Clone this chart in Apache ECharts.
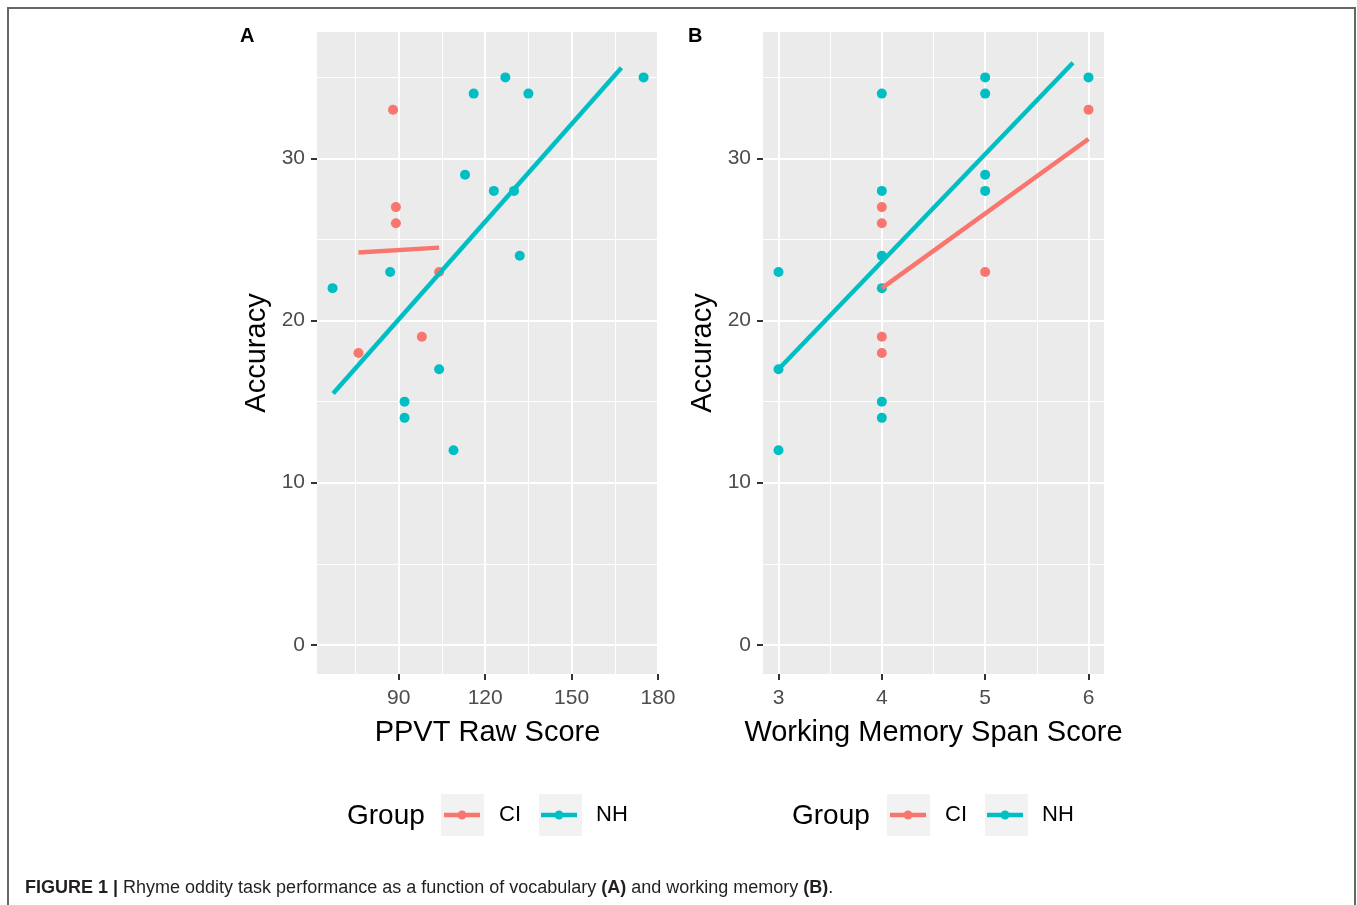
<!DOCTYPE html>
<html>
<head>
<meta charset="utf-8">
<script src="https://cdn.jsdelivr.net/npm/echarts@6/dist/echarts.min.js"></script>
<style>html,body{margin:0;padding:0;background:#fff}#chart{width:1357px;height:905px}</style>
</head>
<body>
<div id="chart"></div>
<script>
  // panel A: PPVT raw score vs accuracy
  const ppvtCI = [88, 89, 89, 104, 98, 76];
  const accCI = [33, 27, 26, 23, 19, 18];
  const ppvtNH = [175, 127, 116, 135, 113, 123, 130, 132, 87, 67, 104, 92, 92, 109];
  const accNH = [35, 35, 34, 34, 29, 28, 28, 24, 23, 22, 17, 15, 14, 12];
  // panel B: working memory span vs accuracy
  const wmCI = [4, 4, 4, 4, 5, 6];
  const wmAccCI = [27, 26, 19, 18, 23, 33];
  const wmNH = [3, 3, 3, 4, 4, 4, 4, 4, 4, 5, 5, 5, 5, 6];
  const wmAccNH = [23, 17, 12, 34, 28, 24, 22, 15, 14, 35, 34, 29, 28, 35];
  // lm fit lines, end points
  const fitA_CI = [[76, 24.2], [104, 24.5]];
  const fitA_NH = [[67.2, 15.5], [167.3, 35.6]];
  const fitB_CI = [[4, 22.0], [6, 31.2]];
  const fitB_NH = [[3, 17.0], [5.85, 35.9]];
  // ticks
  const ppvtTicks = [90, 120, 150, 180];
  const ppvtMinor = [75, 105, 135, 165];
  const wmTicks = [3, 4, 5, 6];
  const wmMinor = [3.5, 4.5, 5.5];
  const accTicks = [0, 10, 20, 30];
  const accMinor = [5, 15, 25, 35];

  const CI_COLOR = '#F8766D';
  const NH_COLOR = '#00BFC4';
  // line with a dot, like the ggplot legend key
  const legendIcon = 'path://M0,2.3 h36 v4.4 h-36 z M13.5,4.5 a4.5,4.5 0 1,1 9,0 a4.5,4.5 0 1,1 -9,0 z';

  const zip = (xs, ys) => xs.map((x, i) => [x, ys[i]]);

  function xAxes(grid, min, max, ticks, minor, name) {
    return [{
      type: 'value', gridIndex: grid, min: min, max: max,
      name: name, nameLocation: 'middle', nameGap: 44,
      nameTextStyle: {fontSize: 29, color: '#000'},
      axisLine: {show: false, onZero: false},
      axisTick: {show: true, length: 6, lineStyle: {color: '#333', width: 2}, customValues: ticks},
      axisLabel: {fontSize: 21, color: '#4d4d4d', margin: 14, customValues: ticks},
      splitLine: {show: true, lineStyle: {color: '#fff', width: 2}}
    }, {
      type: 'value', gridIndex: grid, min: min, max: max,
      axisLine: {show: false, onZero: false},
      axisTick: {show: false, customValues: minor},
      axisLabel: {show: false, customValues: minor},
      splitLine: {show: true, lineStyle: {color: '#fff', width: 1}}
    }];
  }

  function yAxes(grid) {
    return [{
      type: 'value', gridIndex: grid, min: -1.8, max: 37.8,
      name: 'Accuracy', nameLocation: 'middle', nameGap: 46, nameRotate: 90,
      nameTextStyle: {fontSize: 29, color: '#000'},
      axisLine: {show: false, onZero: false},
      axisTick: {show: true, length: 6, lineStyle: {color: '#333', width: 2}, customValues: accTicks},
      axisLabel: {fontSize: 21, color: '#4d4d4d', margin: 12, customValues: accTicks},
      splitLine: {show: true, lineStyle: {color: '#fff', width: 2}}
    }, {
      type: 'value', gridIndex: grid, min: -1.8, max: 37.8,
      axisLine: {show: false, onZero: false},
      axisTick: {show: false, customValues: accMinor},
      axisLabel: {show: false, customValues: accMinor},
      splitLine: {show: true, lineStyle: {color: '#fff', width: 1}}
    }];
  }

  function pts(name, color, data, ax) {
    return {name: name, type: 'scatter', xAxisIndex: ax, yAxisIndex: ax, data: data,
      symbolSize: 10, itemStyle: {color: color, opacity: 1}, z: 3, silent: true};
  }
  function fit(name, color, data, ax) {
    return {name: name, type: 'line', xAxisIndex: ax, yAxisIndex: ax, data: data,
      showSymbol: false, color: color, lineStyle: {color: color, width: 4.5}, z: 4, silent: true};
  }

  function legendAt(left) {
    return {
      left: left, top: 804, orient: 'horizontal', padding: 0,
      data: ['CI', 'NH'], icon: legendIcon, itemWidth: 36, itemHeight: 9, itemGap: 20,
      selectedMode: false,
      textStyle: {fontSize: 22, color: '#000', padding: [0, 0, 0, 14]}
    };
  }

  const chart = echarts.init(document.getElementById('chart'));
  chart.setOption({
    animation: false,
    backgroundColor: '#fff',
    textStyle: {fontFamily: 'Liberation Sans, Arial, sans-serif'},
    grid: [
      {left: 317, top: 32, width: 341, height: 642, show: true, backgroundColor: '#ebebeb', borderWidth: 0},
      {left: 763, top: 32, width: 341, height: 642, show: true, backgroundColor: '#ebebeb', borderWidth: 0}
    ],
    xAxis: [].concat(
      xAxes(0, 61.6, 180, ppvtTicks, ppvtMinor, 'PPVT Raw Score'),
      xAxes(1, 2.85, 6.15, wmTicks, wmMinor, 'Working Memory Span Score')
    ),
    yAxis: [].concat(yAxes(0), yAxes(1)),
    legend: [legendAt(444), legendAt(890)],
    graphic: [
      {type: 'rect', shape: {x: 8, y: 8, width: 1347, height: 1000}, style: {fill: 'none', stroke: '#666', lineWidth: 2}, silent: true},
      {type: 'rect', shape: {x: 441, y: 794, width: 43, height: 42}, style: {fill: '#f2f2f2'}},
      {type: 'rect', shape: {x: 539, y: 794, width: 43, height: 42}, style: {fill: '#f2f2f2'}},
      {type: 'rect', shape: {x: 887, y: 794, width: 43, height: 42}, style: {fill: '#f2f2f2'}},
      {type: 'rect', shape: {x: 985, y: 794, width: 43, height: 42}, style: {fill: '#f2f2f2'}},
      {type: 'text', x: 347, y: 816, style: {text: 'Group', fontSize: 28, fill: '#000', verticalAlign: 'middle', fontFamily: 'Liberation Sans'}},
      {type: 'text', x: 792, y: 816, style: {text: 'Group', fontSize: 28, fill: '#000', verticalAlign: 'middle', fontFamily: 'Liberation Sans'}},
      {type: 'text', x: 240, y: 36, style: {text: 'A', fontSize: 20, fontWeight: 'bold', fill: '#000', verticalAlign: 'middle', fontFamily: 'Liberation Sans'}},
      {type: 'text', x: 688, y: 36, style: {text: 'B', fontSize: 20, fontWeight: 'bold', fill: '#000', verticalAlign: 'middle', fontFamily: 'Liberation Sans'}},
      {type: 'text', x: 25, y: 888, style: {
        text: '{b|FIGURE 1 |} Rhyme oddity task performance as a function of vocabulary {b|(A)} and working memory {b|(B)}.',
        fontSize: 18, fill: '#231f20', verticalAlign: 'middle', fontFamily: 'Liberation Sans',
        rich: {b: {fontWeight: 'bold', fontSize: 18, fontFamily: 'Liberation Sans'}}
      }}
    ],
    series: [
      pts('CI', CI_COLOR, zip(ppvtCI, accCI), 0),
      pts('NH', NH_COLOR, zip(ppvtNH, accNH), 0),
      fit('CI', CI_COLOR, fitA_CI, 0),
      fit('NH', NH_COLOR, fitA_NH, 0),
      pts('CI', CI_COLOR, zip(wmCI, wmAccCI), 2),
      pts('NH', NH_COLOR, zip(wmNH, wmAccNH), 2),
      fit('CI', CI_COLOR, fitB_CI, 2),
      fit('NH', NH_COLOR, fitB_NH, 2)
    ]
  });
</script>
</body>
</html>
